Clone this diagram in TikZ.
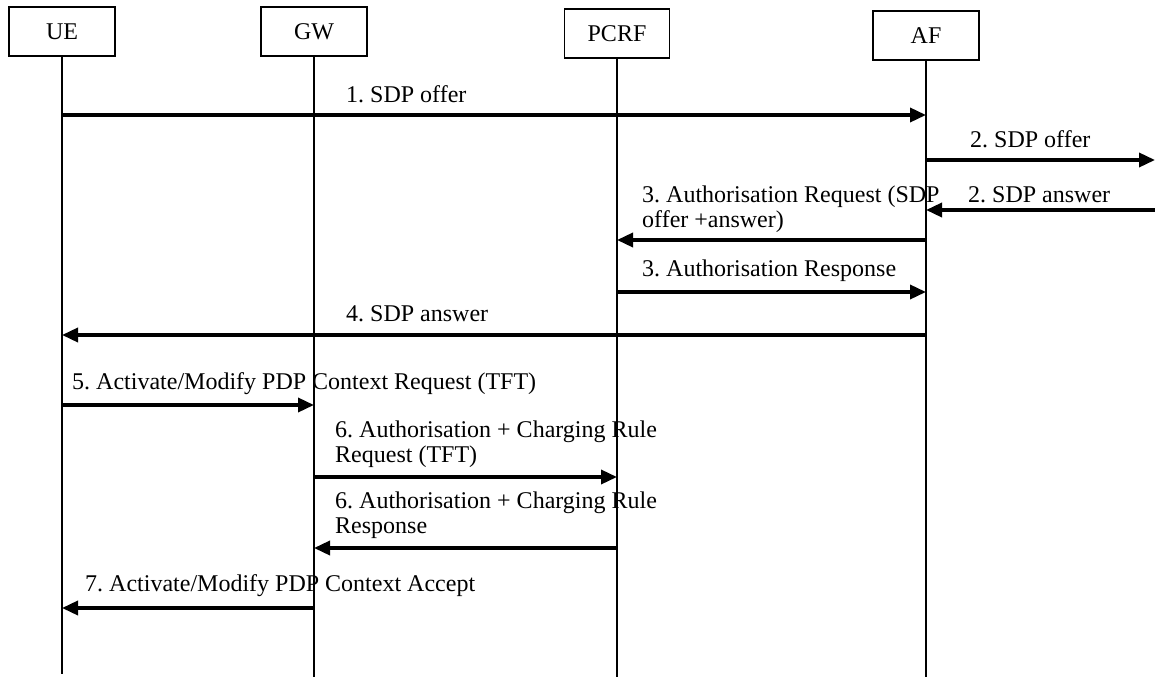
\documentclass[tikz,border=0pt]{standalone}
\usepackage{fontspec}
\setmainfont{Liberation Serif}
\usetikzlibrary{arrows.meta}
\frenchspacing
\begin{document}
\begin{tikzpicture}[x=1pt,y=-1pt,
  txt/.style={font=\fontsize{24}{25}\selectfont},
  actor/.style={draw,line width=1.4pt,minimum width=106pt,minimum height=49pt,inner sep=0pt,txt},
  life/.style={line width=2pt},
  msg/.style={line width=3.5pt,-{Triangle[length=16pt,width=14pt]}},
  lbl/.style={txt,anchor=base west,inner sep=0pt,align=left}]
\useasboundingbox (0,0) rectangle (1155,679);
% entities
\node[actor] (ue)   at (62,31.5)  {UE};
\node[actor] (gw)   at (314,31.5) {GW};
\node[actor,minimum width=105pt] (pcrf) at (617,33.5) {PCRF};
\node[actor] (af)   at (926,35.5) {AF};
% lifeline ends and external peer
\coordinate (ueEnd)   at (62,674);
\coordinate (gwEnd)   at (314,677);
\coordinate (pcrfEnd) at (617,677);
\coordinate (afEnd)   at (926,677);
\coordinate (ext)     at (1155,0);
\draw[life] (ue.south) -- (ueEnd);
\draw[life] (gw.south) -- (gwEnd);
\draw[life] (pcrf.south) -- (pcrfEnd);
\draw[life] (af.south) -- (afEnd);
% messages (multi-line labels are placed by the baseline of their last line)
\draw[msg] (ue |- 0,115) -- (af |- 0,115);
\node[lbl] (l1) at (346,103) {1. SDP offer};
\draw[msg] (af |- 0,160) -- (ext |- 0,160);
\node[lbl] (l2a) at (970,148) {2. SDP offer};
\draw[msg] (ext |- 0,210) -- (af |- 0,210);
\node[lbl] (l2b) at (968,202) {2. SDP answer};
\draw[msg] (af |- 0,240) -- (pcrf |- 0,240);
\node[lbl] (l3a) at (642,227) {3. Authorisation Request (SDP\\offer +answer)};
\draw[msg] (pcrf |- 0,292) -- (af |- 0,292);
\node[lbl] (l3b) at (642,276) {3. Authorisation Response};
\draw[msg] (af |- 0,335) -- (ue |- 0,335);
\node[lbl] (l4) at (346,321) {4. SDP answer};
\draw[msg] (ue |- 0,405) -- (gw |- 0,405);
\node[lbl] (l5) at (72,389) {5. Activate/Modify PDP Context Request (TFT)};
\draw[msg] (gw |- 0,477) -- (pcrf |- 0,477);
\node[lbl] (l6a) at (335,462) {6. Authorisation + Charging Rule\\Request (TFT)};
\draw[msg] (pcrf |- 0,548) -- (gw |- 0,548);
\node[lbl] (l6b) at (335,533) {6. Authorisation + Charging Rule\\Response};
\draw[msg] (gw |- 0,608) -- (ue |- 0,608);
\node[lbl] (l7) at (85,591) {7. Activate/Modify PDP Context Accept};
\end{tikzpicture}
\end{document}
